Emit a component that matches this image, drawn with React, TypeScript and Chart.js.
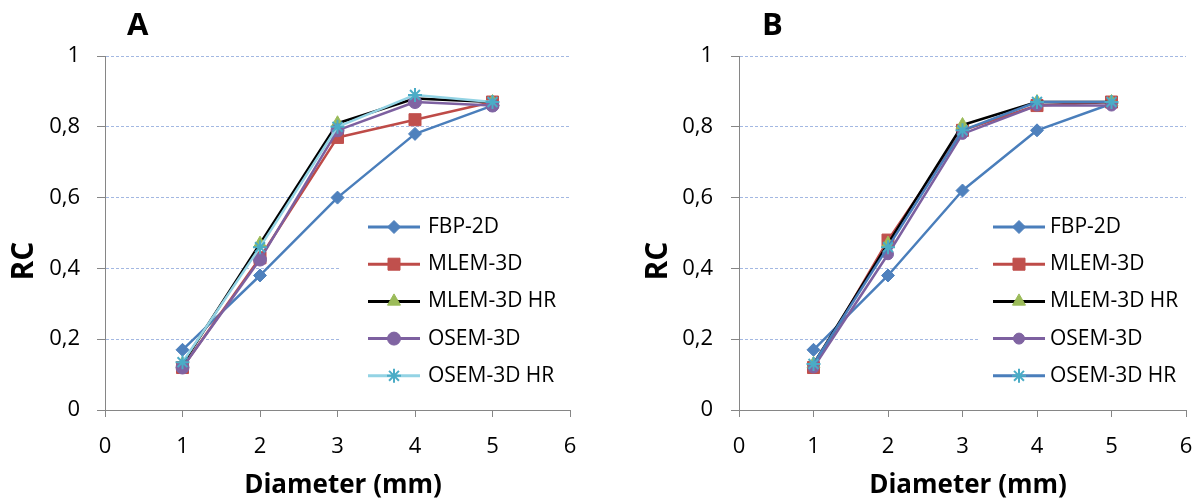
import React, { useEffect, useRef } from 'react';
import { Chart, registerables } from 'chart.js';
import { drawPoint } from 'chart.js/helpers';

Chart.register(...registerables);

// ---------- data ----------
const diameters = [1, 2, 3, 4, 5];
const seriesNames = ['FBP-2D', 'MLEM-3D', 'MLEM-3D HR', 'OSEM-3D', 'OSEM-3D HR'];

const panelAFbp2d = [0.17, 0.38, 0.6, 0.78, 0.86];
const panelAMlem3d = [0.12, 0.43, 0.77, 0.82, 0.87];
const panelAMlem3dHr = [0.13, 0.47, 0.81, 0.88, 0.87];
const panelAOsem3d = [0.12, 0.425, 0.79, 0.87, 0.86];
const panelAOsem3dHr = [0.135, 0.46, 0.8, 0.89, 0.87];

const panelBFbp2d = [0.17, 0.38, 0.62, 0.79, 0.865];
const panelBMlem3d = [0.12, 0.48, 0.79, 0.86, 0.87];
const panelBMlem3dHr = [0.13, 0.47, 0.805, 0.87, 0.87];
const panelBOsem3d = [0.12, 0.44, 0.78, 0.86, 0.86];
const panelBOsem3dHr = [0.13, 0.46, 0.79, 0.87, 0.87];

const xTicks = [0, 1, 2, 3, 4, 5, 6];
const xTickLabels = ['0', '1', '2', '3', '4', '5', '6'];
const yTicks = [0, 0.2, 0.4, 0.6, 0.8, 1];
const yTickLabels = ['0', '0,2', '0,4', '0,6', '0,8', '1'];

const xAxisTitle = 'Diameter (mm)';
const yAxisTitle = 'RC';
const panelLetters = ['A', 'B'];

// ---------- styles ----------
const FONT = '"Open Sans", "DejaVu Sans", sans-serif';
const AXIS_COLOR = '#868686';
const GRID_COLOR = '#a3b8e2';

type SeriesStyle = { line: string; marker: string; pointStyle: string; radius: number; markerBorder: number };

const stylesA: SeriesStyle[] = [
  { line: '#4a7ebb', marker: '#4f81bd', pointStyle: 'rectRot', radius: 6.5, markerBorder: 1 },
  { line: '#be4b48', marker: '#c0504d', pointStyle: 'rect', radius: 8.5, markerBorder: 1 },
  { line: '#000000', marker: '#9bbb59', pointStyle: 'triangle', radius: 7.5, markerBorder: 1 },
  { line: '#7d60a0', marker: '#8064a2', pointStyle: 'circle', radius: 6.5, markerBorder: 1 },
  { line: '#93d3e4', marker: '#4bacc6', pointStyle: 'star', radius: 7, markerBorder: 2 },
];
const stylesB: SeriesStyle[] = [
  { line: '#4a7ebb', marker: '#4f81bd', pointStyle: 'rectRot', radius: 6.5, markerBorder: 1 },
  { line: '#be4b48', marker: '#c0504d', pointStyle: 'rect', radius: 8.5, markerBorder: 1 },
  { line: '#000000', marker: '#9bbb59', pointStyle: 'triangle', radius: 7.5, markerBorder: 1 },
  { line: '#7d60a0', marker: '#8064a2', pointStyle: 'circle', radius: 5.5, markerBorder: 1 },
  { line: '#4a7ebb', marker: '#4bacc6', pointStyle: 'star', radius: 7, markerBorder: 2 },
];

type PanelLayout = {
  canvasLeft: number;
  canvasWidth: number;
  axisLeft: number;
  axisRight: number;
  yTickPadding: number;
  letterX: number;
  xTitleX: number;
  yTitleX: number;
  legendBoxLeft: number;
  legendLineX1: number;
  legendLineX2: number;
  legendTextX: number;
};

const CANVAS_H = 501;
const PLOT_TOP = 56;
const PLOT_BOTTOM = 410;

const layoutA: PanelLayout = {
  canvasLeft: 0,
  canvasWidth: 599,
  axisLeft: 105,
  axisRight: 570,
  yTickPadding: 17,
  letterX: 127,
  xTitleX: 343,
  yTitleX: 33,
  legendBoxLeft: 340,
  legendLineX1: 368,
  legendLineX2: 420,
  legendTextX: 428,
};
const layoutB: PanelLayout = {
  canvasLeft: 599,
  canvasWidth: 599,
  axisLeft: 140,
  axisRight: 587,
  yTickPadding: 18,
  letterX: 163,
  xTitleX: 369,
  yTitleX: 68,
  legendBoxLeft: 379,
  legendLineX1: 394,
  legendLineX2: 446,
  legendTextX: 451,
};

// ---------- plugins ----------
const insideLegend = {
  id: 'insideLegend',
  afterDatasetsDraw(chart: any, _args: any, opts: any) {
    const ctx = chart.ctx as CanvasRenderingContext2D;
    ctx.save();
    ctx.fillStyle = '#ffffff';
    ctx.fillRect(opts.boxLeft, opts.boxTop, chart.chartArea.right - opts.boxLeft, opts.boxBottom - opts.boxTop);
    chart.data.datasets.forEach((ds: any, i: number) => {
      const y = opts.firstY + i * opts.gap;
      ctx.setLineDash([]);
      ctx.strokeStyle = ds.borderColor;
      ctx.lineWidth = 3;
      ctx.beginPath();
      ctx.moveTo(opts.lineX1, y);
      ctx.lineTo(opts.lineX2, y);
      ctx.stroke();
      ctx.fillStyle = ds.pointBackgroundColor;
      ctx.strokeStyle = ds.pointBorderColor;
      ctx.lineWidth = ds.pointBorderWidth;
      drawPoint(
        ctx,
        { pointStyle: ds.pointStyle, radius: ds.pointRadius, rotation: 0, borderWidth: ds.pointBorderWidth } as any,
        (opts.lineX1 + opts.lineX2) / 2,
        y
      );
      ctx.fillStyle = '#000000';
      ctx.font = `21px ${FONT}`;
      ctx.textAlign = 'left';
      ctx.textBaseline = 'middle';
      ctx.fillText(ds.label, opts.textX, y);
    });
    ctx.restore();
  },
};

const panelText = {
  id: 'panelText',
  afterDraw(chart: any, _args: any, opts: any) {
    const ctx = chart.ctx as CanvasRenderingContext2D;
    ctx.save();
    ctx.fillStyle = '#000000';
    ctx.textBaseline = 'alphabetic';
    ctx.textAlign = 'left';
    ctx.font = `bold 31px ${FONT}`;
    ctx.fillText(opts.letter, opts.letterX, 35);
    ctx.textAlign = 'center';
    ctx.font = `bold 26px ${FONT}`;
    ctx.fillText(opts.xTitle, opts.xTitleX, 493);
    ctx.translate(opts.yTitleX, 261);
    ctx.rotate(-Math.PI / 2);
    ctx.font = `bold 30px ${FONT}`;
    ctx.fillText(opts.yTitle, 0, 0);
    ctx.restore();
  },
};

function buildDatasets(values: number[][], styles: SeriesStyle[]) {
  return values.map((vals, i) => {
    const s = styles[i];
    return {
      label: seriesNames[i],
      data: diameters.map((d, j) => ({ x: d, y: vals[j] })),
      borderColor: s.line,
      backgroundColor: s.line,
      borderWidth: 2.5,
      borderJoinStyle: 'round',
      tension: 0,
      pointStyle: s.pointStyle,
      pointRadius: s.radius,
      pointHoverRadius: s.radius,
      pointBackgroundColor: s.marker,
      pointBorderColor: s.marker,
      pointBorderWidth: s.markerBorder,
      order: values.length - i,
      clip: false,
    };
  });
}

function makeConfig(values: number[][], styles: SeriesStyle[], L: PanelLayout, letter: string): any {
  return {
    type: 'line',
    data: { datasets: buildDatasets(values, styles) },
    plugins: [insideLegend, panelText],
    options: {
      responsive: false,
      animation: false,
      events: [],
      layout: {
        padding: { left: 0, right: L.canvasWidth - L.axisRight, top: PLOT_TOP, bottom: 0 },
      },
      plugins: {
        legend: { display: false },
        tooltip: { enabled: false },
        title: { display: false },
        insideLegend: {
          boxLeft: L.legendBoxLeft,
          boxTop: 205,
          boxBottom: 400,
          lineX1: L.legendLineX1,
          lineX2: L.legendLineX2,
          textX: L.legendTextX,
          firstY: 227,
          gap: 37.2,
        },
        panelText: {
          letter,
          letterX: L.letterX,
          xTitle: xAxisTitle,
          xTitleX: L.xTitleX,
          yTitle: yAxisTitle,
          yTitleX: L.yTitleX,
        },
      },
      scales: {
        x: {
          type: 'linear',
          min: 0,
          max: 6,
          afterBuildTicks: (scale: any) => {
            scale.ticks = xTicks.map((v) => ({ value: v }));
          },
          afterFit: (scale: any) => {
            scale.height = CANVAS_H - PLOT_BOTTOM;
            scale.paddingLeft = 0;
            scale.paddingRight = 0;
          },
          ticks: {
            padding: 17,
            color: '#000000',
            font: { family: FONT, size: 22 },
            maxRotation: 0,
            autoSkip: false,
            callback: (_v: any, idx: number) => xTickLabels[idx],
          },
          grid: {
            drawOnChartArea: false,
            drawTicks: true,
            tickLength: 7,
            tickColor: AXIS_COLOR,
            color: AXIS_COLOR,
            lineWidth: 1,
          },
          border: { display: true, color: AXIS_COLOR, width: 1 },
        },
        y: {
          type: 'linear',
          min: 0,
          max: 1,
          afterBuildTicks: (scale: any) => {
            scale.ticks = yTicks.map((v) => ({ value: v }));
          },
          afterFit: (scale: any) => {
            scale.width = L.axisLeft;
            scale.paddingTop = 0;
            scale.paddingBottom = 0;
          },
          ticks: {
            padding: L.yTickPadding,
            color: '#000000',
            font: { family: FONT, size: 22 },
            autoSkip: false,
            callback: (_v: any, idx: number) => yTickLabels[idx],
          },
          grid: {
            drawOnChartArea: true,
            drawTicks: true,
            tickLength: 8,
            tickColor: AXIS_COLOR,
            tickBorderDash: [],
            color: (c: any) => (c.tick && c.tick.value === 0 ? 'rgba(0,0,0,0)' : GRID_COLOR),
            lineWidth: 1,
          },
          border: { display: true, color: AXIS_COLOR, width: 1, dash: [3, 2] },
        },
      },
    },
  };
}

function Panel({ values, styles, layout, letter }: { values: number[][]; styles: SeriesStyle[]; layout: PanelLayout; letter: string }) {
  const ref = useRef<HTMLCanvasElement | null>(null);
  useEffect(() => {
    if (!ref.current) return;
    const chart = new Chart(ref.current, makeConfig(values, styles, layout, letter));
    return () => chart.destroy();
  }, []);
  return (
    <canvas
      ref={ref}
      width={layout.canvasWidth}
      height={CANVAS_H}
      style={{ position: 'absolute', left: layout.canvasLeft, top: 0, width: layout.canvasWidth, height: CANVAS_H, display: 'block' }}
    />
  );
}

export default function App() {
  const valuesA = [panelAFbp2d, panelAMlem3d, panelAMlem3dHr, panelAOsem3d, panelAOsem3dHr];
  const valuesB = [panelBFbp2d, panelBMlem3d, panelBMlem3dHr, panelBOsem3d, panelBOsem3dHr];
  return (
    <div style={{ position: 'absolute', left: 0, top: 0, width: 1198, height: CANVAS_H, background: '#ffffff', overflow: 'hidden' }}>
      <Panel values={valuesA} styles={stylesA} layout={layoutA} letter={panelLetters[0]} />
      <Panel values={valuesB} styles={stylesB} layout={layoutB} letter={panelLetters[1]} />
    </div>
  );
}
